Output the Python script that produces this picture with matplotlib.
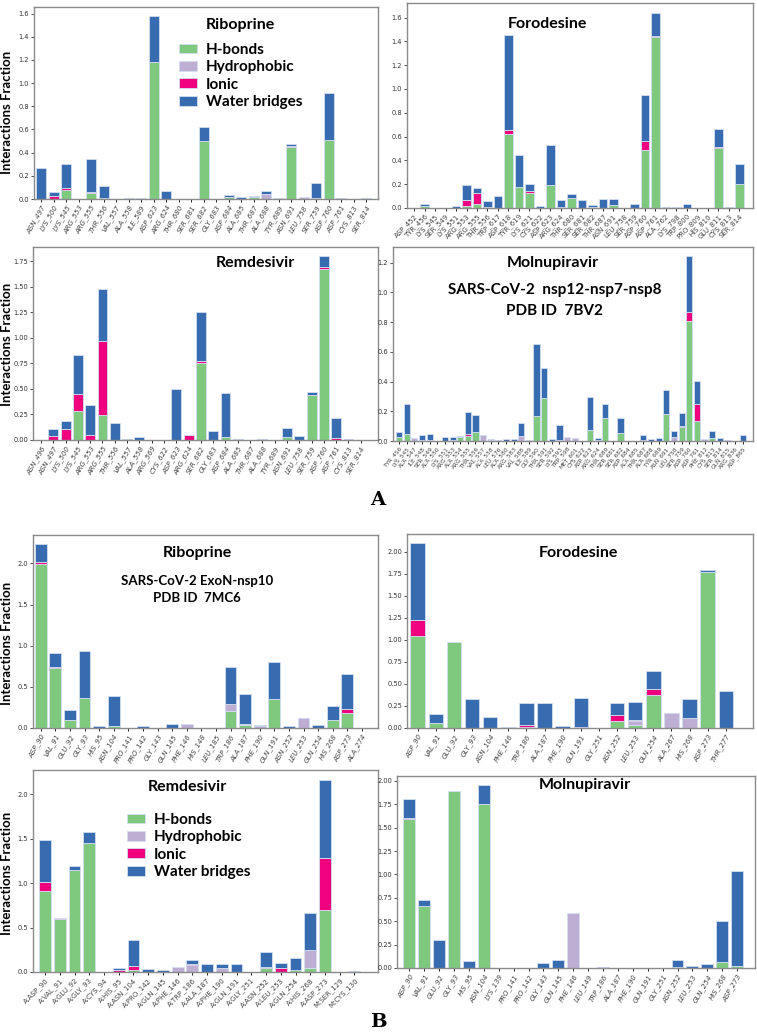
import numpy as np
import matplotlib
matplotlib.use("Agg")
import matplotlib.pyplot as plt
from matplotlib.patches import Patch

W, H = 757, 1034

# colours (Accent palette)
C_HB = '#7fc97f'
C_HY = '#beaed4'
C_IO = '#f0027f'
C_WB = '#386cb0'
EDGE = '#d4def0'

# ---------------- A: nsp12-nsp7-nsp8 (7BV2) ----------------
a_rib_labels = ['ASN_497', 'LYS_500', 'LYS_545', 'ARG_553', 'ARG_555', 'THR_556', 'VAL_557',
                'ALA_558', 'ILE_589', 'ASP_623', 'ARG_624', 'THR_680', 'SER_681', 'SER_682',
                'GLY_683', 'ASP_684', 'ALA_685', 'THR_687', 'ALA_688', 'TYR_689', 'ASN_691',
                'LEU_758', 'SER_759', 'ASP_760', 'ASP_761', 'CYS_813', 'SER_814']
a_rib_hb = [0, 0, 0.078, 0, 0.055, 0.01, 0, 0, 0, 1.184, 0, 0, 0, 0.5, 0, 0.015, 0, 0.015,
            0, 0, 0.451, 0, 0.005, 0.508, 0, 0, 0]
a_rib_hy = [0, 0, 0, 0, 0, 0, 0, 0, 0.01, 0, 0, 0, 0, 0, 0, 0, 0, 0, 0.045, 0.005, 0, 0.02,
            0, 0, 0, 0, 0]
a_rib_io = [0, 0.03, 0.02, 0, 0.005, 0, 0, 0, 0, 0, 0, 0, 0, 0, 0, 0, 0, 0.004, 0, 0, 0.005,
            0, 0, 0.005, 0, 0, 0]
a_rib_wb = [0.27, 0.033, 0.2, 0, 0.282, 0.105, 0, 0.008, 0, 0.394, 0.065, 0, 0, 0.125, 0,
            0.02, 0.02, 0.003, 0.02, 0, 0.02, 0, 0.135, 0.404, 0.008, 0, 0.008]

a_for_labels = ['ASP_452', 'TYR_456', 'LYS_545', 'SER_549', 'LYS_551', 'ARG_553', 'ARG_555',
                'THR_556', 'TRP_617', 'ASP_618', 'TYR_619', 'LYS_621', 'CYS_622', 'ASP_623',
                'ARG_624', 'THR_680', 'SER_681', 'SER_682', 'THR_687', 'ASN_691', 'LEU_758',
                'SER_759', 'ASP_760', 'ASP_761', 'ALA_762', 'LYS_798', 'TRP_800', 'PRO_809',
                'HIS_810', 'GLU_811', 'CYS_813', 'SER_814']
a_for_hb = [0, 0.015, 0, 0, 0, 0.02, 0.036, 0.01, 0, 0.618, 0.18, 0.125, 0, 0.19, 0, 0.085,
            0, 0.005, 0, 0.025, 0, 0, 0.487, 1.438, 0, 0, 0, 0, 0, 0.506, 0, 0.2]
a_for_hy = [0, 0, 0, 0, 0, 0, 0, 0, 0, 0, 0, 0, 0, 0, 0, 0, 0, 0, 0, 0, 0.003, 0, 0, 0, 0,
            0.008, 0, 0, 0, 0, 0, 0]
a_for_io = [0, 0, 0.004, 0, 0, 0.05, 0.094, 0, 0, 0.036, 0, 0.02, 0, 0.004, 0.005, 0, 0, 0,
            0, 0, 0, 0, 0.075, 0.005, 0, 0, 0, 0, 0, 0.01, 0, 0.004]
a_for_wb = [0, 0.021, 0, 0, 0.02, 0.125, 0.037, 0.052, 0.105, 0.801, 0.265, 0.058, 0.018,
            0.332, 0.06, 0.032, 0.065, 0.023, 0.078, 0.053, 0, 0.03, 0.39, 0.197, 0.012, 0,
            0.03, 0, 0.004, 0.146, 0.012, 0.166]

a_rem_labels = ['ASN_496', 'ASN_497', 'LYS_500', 'LYS_545', 'ARG_553', 'ARG_555', 'THR_556',
                'VAL_557', 'ALA_558', 'ARG_569', 'CYS_622', 'ASP_623', 'ARG_624', 'SER_682',
                'GLY_683', 'ASP_684', 'ALA_685', 'THR_687', 'ALA_688', 'TYR_689', 'ASN_691',
                'LEU_758', 'SER_759', 'ASP_760', 'ASP_761', 'CYS_813', 'SER_814']
a_rem_hb = [0, 0, 0, 0.28, 0, 0.242, 0, 0, 0, 0, 0, 0, 0, 0.756, 0, 0.025, 0, 0, 0, 0, 0.025,
            0, 0.445, 1.678, 0, 0, 0]
a_rem_hy = [0] * 27
a_rem_io = [0, 0.04, 0.108, 0.175, 0.05, 0.728, 0, 0, 0, 0, 0, 0, 0.045, 0.019, 0, 0, 0, 0,
            0, 0, 0, 0, 0, 0.012, 0.015, 0, 0]
a_rem_wb = [0, 0.07, 0.082, 0.375, 0.29, 0.51, 0.167, 0.005, 0.033, 0, 0, 0.497, 0, 0.475,
            0.085, 0.436, 0.005, 0, 0.012, 0, 0.09, 0.04, 0.023, 0.11, 0.198, 0.006, 0]

a_mol_labels = ['TYR_456', 'LYS_545', 'ALA_547', 'ILE_548', 'SER_549', 'ALA_550', 'LYS_551',
                'ARG_553', 'ALA_554', 'ARG_555', 'THR_556', 'VAL_557', 'ALA_558', 'LEU_576',
                'ALA_580', 'ARG_583', 'VAL_588', 'ILE_589', 'GLY_590', 'THR_591', 'SER_592',
                'LYS_593', 'TRP_598', 'MET_601', 'CYS_622', 'ASP_623', 'ARG_624', 'THR_680',
                'SER_681', 'SER_682', 'ASP_684', 'ALA_685', 'THR_687', 'ALA_688', 'TYR_689',
                'ASN_691', 'LEU_758', 'SER_759', 'ASP_760', 'ASP_761', 'PHE_812', 'CYS_813',
                'SER_814', 'GLN_815', 'ARG_836', 'ASP_865']
a_mol_hb = [0.025, 0.047, 0, 0.01, 0.01, 0, 0, 0, 0.025, 0.036, 0.061, 0, 0.004, 0, 0, 0, 0,
            0, 0.168, 0.29, 0, 0.005, 0, 0, 0, 0.072, 0.005, 0.155, 0, 0.052, 0, 0, 0, 0, 0,
            0.184, 0, 0.094, 0.808, 0.135, 0, 0.02, 0, 0, 0, 0]
a_mol_hy = [0, 0, 0.02, 0, 0, 0, 0, 0, 0, 0, 0, 0.04, 0, 0, 0, 0, 0.034, 0.008, 0, 0, 0, 0,
            0.025, 0.02, 0, 0, 0, 0, 0, 0, 0, 0, 0, 0, 0, 0, 0.03, 0.003, 0, 0, 0.012, 0, 0,
            0, 0, 0]
a_mol_io = [0, 0, 0, 0, 0, 0, 0, 0.008, 0, 0.011, 0, 0, 0, 0, 0, 0, 0, 0, 0, 0, 0, 0, 0, 0,
            0, 0, 0, 0, 0, 0, 0, 0, 0.005, 0, 0, 0, 0, 0.003, 0.06, 0.112, 0, 0, 0, 0, 0, 0]
a_mol_wb = [0.035, 0.203, 0, 0.03, 0.035, 0, 0.025, 0.019, 0.007, 0.146, 0.116, 0, 0.008,
            0.005, 0.015, 0.012, 0.089, 0, 0.482, 0.2, 0.012, 0.1, 0, 0, 0, 0.222, 0.013,
            0.092, 0, 0.103, 0, 0.003, 0.038, 0.012, 0.02, 0.159, 0.04, 0.086, 0.375, 0.157,
            0, 0.045, 0.02, 0.01, 0, 0.04]

# ---------------- B: ExoN-nsp10 (7MC6) ----------------
b_rib_labels = ['ASP_90', 'VAL_91', 'GLU_92', 'GLY_93', 'HIS_95', 'ASN_104', 'PRO_141',
                'PRO_142', 'GLY_143', 'GLN_145', 'PHE_146', 'HIS_148', 'LEU_185', 'TRP_186',
                'ALA_187', 'PHE_190', 'GLN_191', 'ASN_252', 'LEU_253', 'GLN_254', 'HIS_268',
                'ASP_273', 'ALA_274']
b_rib_hb = [1.99, 0.735, 0.1, 0.36, 0, 0.025, 0, 0, 0, 0, 0, 0, 0, 0.21, 0.035, 0, 0.35, 0,
            0, 0, 0.093, 0.18, 0]
b_rib_hy = [0, 0, 0, 0, 0, 0, 0.005, 0, 0, 0, 0.045, 0, 0, 0.085, 0.01, 0.03, 0, 0, 0.12, 0,
            0, 0, 0]
b_rib_io = [0.026, 0.005, 0, 0.005, 0, 0, 0, 0, 0, 0, 0, 0, 0, 0, 0, 0, 0, 0, 0, 0, 0.005,
            0.054, 0]
b_rib_wb = [0.218, 0.169, 0.122, 0.568, 0.028, 0.359, 0, 0.025, 0, 0.045, 0, 0, 0, 0.452,
            0.367, 0.005, 0.458, 0.02, 0, 0.035, 0.172, 0.426, 0]

b_for_labels = ['ASP_90', 'VAL_91', 'GLU_92', 'GLY_93', 'ASN_104', 'PHE_146', 'TRP_186',
                'ALA_187', 'PHE_190', 'GLN_191', 'GLY_251', 'ASN_252', 'LEU_253', 'GLN_254',
                'ALA_267', 'HIS_268', 'ASP_273', 'THR_277']
b_for_hb = [1.044, 0.057, 0.972, 0, 0, 0, 0.01, 0, 0, 0.01, 0, 0.083, 0.03, 0.376, 0, 0,
            1.772, 0]
b_for_hy = [0, 0, 0, 0, 0, 0.015, 0, 0, 0.003, 0, 0, 0, 0.046, 0, 0.17, 0.118, 0.005, 0]
b_for_io = [0.182, 0, 0.008, 0, 0, 0, 0.02, 0, 0, 0, 0, 0.061, 0.019, 0.064, 0, 0, 0, 0]
b_for_wb = [0.873, 0.102, 0, 0.326, 0.129, 0, 0.255, 0.285, 0.015, 0.332, 0, 0.144, 0.205,
            0.205, 0, 0.208, 0.023, 0.417]

b_rem_labels = ['A:ASP_90', 'A:VAL_91', 'A:GLU_92', 'A:GLY_93', 'A:CYS_94', 'A:HIS_95',
                'A:ASN_104', 'A:PRO_142', 'A:GLN_145', 'A:PHE_146', 'A:TRP_186', 'A:ALA_187',
                'A:PHE_190', 'A:GLN_191', 'A:GLY_251', 'A:ASN_252', 'A:LEU_253', 'A:GLN_254',
                'A:HIS_268', 'A:ASP_273', 'M:SER_129', 'M:CYS_130']
b_rem_hb = [0.91, 0.594, 1.143, 1.447, 0, 0.005, 0.02, 0, 0, 0, 0, 0, 0, 0, 0, 0.04, 0,
            0.025, 0.04, 0.692, 0, 0]
b_rem_hy = [0, 0, 0, 0, 0, 0, 0, 0, 0.005, 0.058, 0.075, 0, 0.05, 0, 0.005, 0, 0, 0, 0.204,
            0, 0, 0]
b_rem_io = [0.098, 0.01, 0.008, 0, 0, 0.021, 0.051, 0, 0, 0, 0.019, 0, 0, 0.005, 0, 0.02,
            0.04, 0, 0, 0.586, 0, 0]
b_rem_wb = [0.473, 0.005, 0.037, 0.121, 0, 0.019, 0.294, 0.035, 0.015, 0, 0.045, 0.085,
            0.04, 0.08, 0, 0.166, 0.061, 0.133, 0.418, 0.884, 0, 0.012]

b_mol_labels = ['ASP_90', 'VAL_91', 'GLU_92', 'GLY_93', 'HIS_95', 'ASN_104', 'LYS_139',
                'PRO_141', 'PRO_142', 'GLY_143', 'GLN_145', 'PHE_146', 'LEU_149', 'TRP_186',
                'ALA_187', 'PHE_190', 'GLN_191', 'GLY_251', 'ASN_252', 'LEU_253', 'GLN_254',
                'HIS_268', 'ASP_273']
b_mol_hb = [1.597, 0.66, 0, 1.893, 0, 1.754, 0, 0, 0, 0, 0.003, 0, 0, 0, 0, 0, 0, 0, 0.01,
            0, 0, 0.06, 0.025]
b_mol_hy = [0, 0, 0, 0, 0, 0, 0.005, 0, 0, 0, 0, 0.585, 0, 0, 0.005, 0.003, 0, 0, 0, 0, 0,
            0, 0]
b_mol_io = [0.01, 0.005, 0.005, 0, 0, 0, 0, 0, 0, 0, 0, 0, 0, 0, 0, 0, 0, 0, 0, 0, 0, 0, 0]
b_mol_wb = [0.197, 0.062, 0.295, 0, 0.08, 0.2, 0, 0, 0, 0.055, 0.087, 0, 0, 0.015, 0, 0, 0,
            0, 0.077, 0.02, 0.048, 0.439, 1.016]

legend_names = ['H-bonds', 'Hydrophobic', 'Ionic', 'Water bridges']

TXT = 'Lato'
fig = plt.figure(figsize=(W / 100, H / 100), dpi=100)


def px_axes(l, t, r, b):
    return fig.add_axes([l / W, 1 - b / H, (r - l) / W, (b - t) / H])


def panel(box, labels, hb, hy, io, wb, xlim, yticks, rot, italic, tick_fs=5.0):
    ax = px_axes(*box)
    x = np.arange(len(labels))
    hb, hy, io, wb = map(np.array, (hb, hy, io, wb))
    w = 0.8
    kw = dict(width=w, edgecolor=EDGE, linewidth=0.6)
    ax.bar(x, hb, color=C_HB, **kw)
    ax.bar(x, hy, bottom=hb, color=C_HY, **kw)
    ax.bar(x, io, bottom=hb + hy, color=C_IO, **kw)
    ax.bar(x, wb, bottom=hb + hy + io, color=C_WB, **kw)
    ax.set_xlim(*xlim)
    ax.set_ylim(0, None)
    ax.set_xticks(x)
    ax.set_xticklabels(labels, rotation=rot, ha='right', rotation_mode='anchor',
                       fontsize=tick_fs, color='#444444',
                       style='italic' if italic else 'normal')
    ax.set_yticks(yticks)
    ax.tick_params(axis='y', labelsize=4.8, colors='#333333', length=2, width=0.6, pad=1.5)
    ax.tick_params(axis='x', length=2, width=0.6, pad=1.5)
    for s in ax.spines.values():
        s.set_color('#8a8a8a')
        s.set_linewidth(1.0)
    return ax


def add_text(x, y, s, size=11.5):
    fig.text(x / W, 1 - y / H, s, ha='center', va='center', fontsize=size,
             fontweight='bold', family=TXT)


def add_legend(x, y):
    handles = [Patch(facecolor=c, edgecolor=EDGE, linewidth=0.6)
               for c in (C_HB, C_HY, C_IO, C_WB)]
    fig.legend(handles, legend_names, loc='upper left', bbox_to_anchor=(x / W, 1 - y / H),
               frameon=False, borderpad=0, borderaxespad=0, handlelength=1.2,
               handleheight=0.6, handletextpad=0.55, labelspacing=0.22,
               prop={'family': TXT, 'weight': 'bold', 'size': 11})


def add_ylabel(x, y):
    fig.text(x / W, 1 - y / H, 'Interactions Fraction', rotation=90, ha='center',
             va='center', fontsize=9.5, fontweight='bold', family=TXT)


# panel A
panel((34, 7, 378, 199), a_rib_labels, a_rib_hb, a_rib_hy, a_rib_io, a_rib_wb,
      (-0.56, 26.95), np.arange(0, 1.61, 0.2), 60, True)
panel((407, 3, 753, 208), a_for_labels, a_for_hb, a_for_hy, a_for_io, a_for_wb,
      (-0.67, 32.3), np.arange(0, 1.61, 0.2), 45, False)
panel((33, 247, 378, 440), a_rem_labels, a_rem_hb, a_rem_hy, a_rem_io, a_rem_wb,
      (-0.65, 27.4), np.arange(0, 1.76, 0.25), 60, True)
panel((393, 247, 753, 441), a_mol_labels, a_mol_hb, a_mol_hy, a_mol_io, a_mol_wb,
      (-0.8, 46.35), np.arange(0, 1.21, 0.2), 50, False, tick_fs=4.2)

# panel B
panel((33, 535, 378, 728), b_rib_labels, b_rib_hb, b_rib_hy, b_rib_io, b_rib_wb,
      (-0.53, 23.1), np.arange(0, 2.01, 0.5), 60, True)
panel((407, 534, 753, 728), b_for_labels, b_for_hb, b_for_hy, b_for_io, b_for_wb,
      (-0.59, 18.5), np.arange(0, 2.01, 0.25), 60, True)
panel((33, 770, 378, 972), b_rem_labels, b_rem_hb, b_rem_hy, b_rem_io, b_rem_wb,
      (-0.82, 22.6), np.arange(0, 2.01, 0.5), 45, False)
panel((397, 776, 755, 968), b_mol_labels, b_mol_hb, b_mol_hy, b_mol_io, b_mol_wb,
      (-0.83, 23.2), np.arange(0, 2.01, 0.25), 60, True)

# titles and annotations
add_text(240, 25, 'Riboprine')
add_text(547, 24, 'Forodesine')
add_text(255, 263, 'Remdesivir')
add_text(553, 263, 'Molnupiravir')
add_text(555, 290, 'SARS-CoV-2  nsp12-nsp7-nsp8', size=11)
add_text(555, 311, 'PDB ID  7BV2', size=11)
add_text(197, 553, 'Riboprine')
add_text(197, 581, 'SARS-CoV-2 ExoN-nsp10', size=9.5)
add_text(197, 598, 'PDB ID  7MC6', size=9.5)
add_text(578, 553, 'Forodesine')
add_text(187, 787, 'Remdesivir')
add_text(585, 785, 'Molnupiravir')

add_legend(179, 43)
add_legend(127, 813)

add_ylabel(7, 112)
add_ylabel(7, 344)
add_ylabel(7, 643)
add_ylabel(7, 873)

fig.text(378 / W, 1 - 500 / H, 'A', ha='center', va='center', fontsize=14,
         fontweight='bold', family='DejaVu Serif')
fig.text(378 / W, 1 - 1022 / H, 'B', ha='center', va='center', fontsize=14,
         fontweight='bold', family='DejaVu Serif')

fig.savefig('out.png', dpi=100)
